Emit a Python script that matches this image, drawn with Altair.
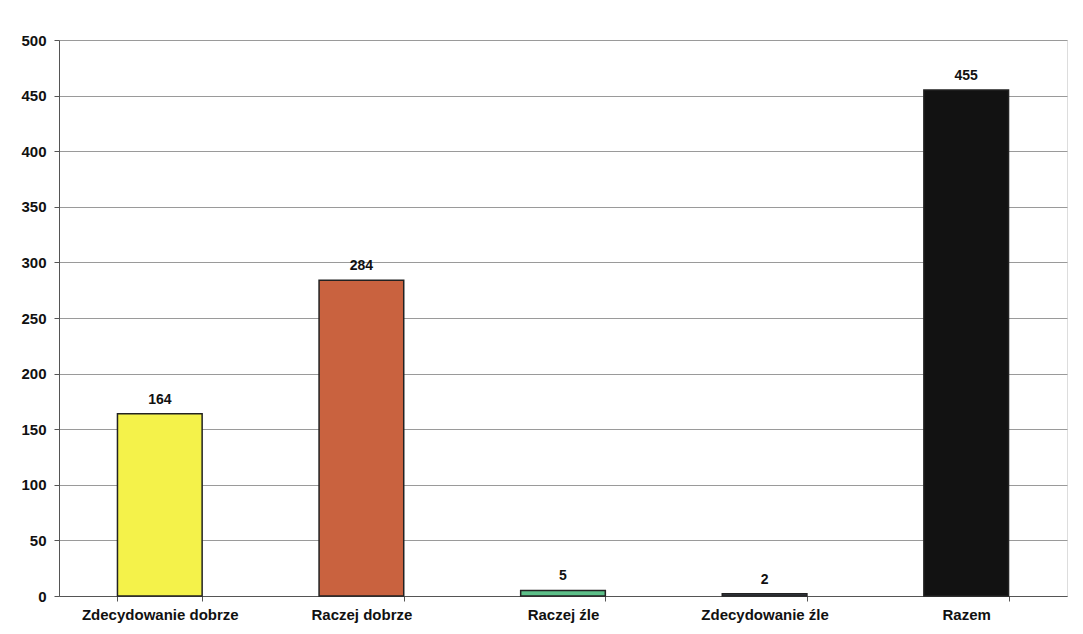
import altair as alt
import pandas as pd

categories = ["Zdecydowanie dobrze", "Raczej dobrze", "Raczej źle", "Zdecydowanie źle", "Razem"]
values = [164, 284, 5, 2, 455]
colors = ["#f4f24a", "#c9623f", "#5cbf88", "#3b404c", "#121212"]

df = pd.DataFrame({"kategoria": categories, "wartosc": values, "kolor": colors})

base = alt.Chart(df).encode(
    x=alt.X("kategoria:N", sort=categories, title=None,
            scale=alt.Scale(paddingInner=0.58, paddingOuter=0.29),
            axis=alt.Axis(labelAngle=0, labelFont="Liberation Sans", labelFontSize=15,
                          labelFontWeight="bold", labelColor="#111", labelPadding=6,
                          domainColor="#555", tickColor="#555", tickBand="extent", grid=False)),
    y=alt.Y("wartosc:Q", title=None,
            scale=alt.Scale(domain=[0, 500]),
            axis=alt.Axis(values=list(range(0, 501, 50)), labelFont="Liberation Sans",
                          labelFontSize=15, labelFontWeight="bold", labelColor="#111",
                          domainColor="#555", tickColor="#555", gridColor="#9a9a9a",
                          gridWidth=1, labelPadding=8)),
)

bars = base.mark_bar(stroke="#222", strokeWidth=1.5).encode(
    color=alt.Color("kolor:N", scale=None)
)

text = base.mark_text(dy=-14, font="Liberation Sans", fontSize=14, fontWeight="bold",
                      color="#111").encode(text="wartosc:Q")

chart = (bars + text).properties(
    width=1008, height=556,
    padding={"left": 12, "top": 25, "right": 4, "bottom": 5}
).configure_view(stroke=None).configure(background="white")

chart.save("out.html", embed_options={"renderer": "svg", "actions": False})
